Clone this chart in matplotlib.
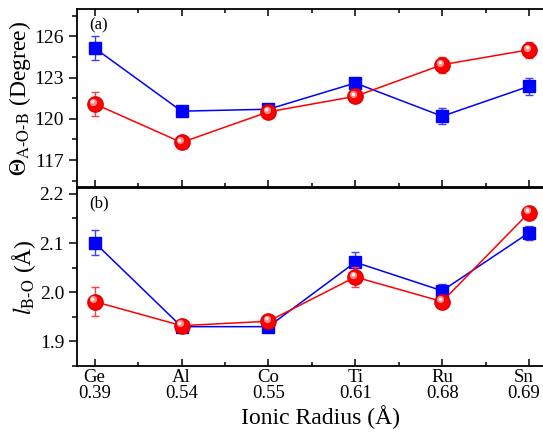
import matplotlib
matplotlib.use("Agg")
import matplotlib.pyplot as plt
from matplotlib.ticker import MultipleLocator, FixedLocator
from matplotlib.transforms import offset_copy, ScaledTranslation
import numpy as np

elements = ["Ge", "Al", "Co", "Ti", "Ru", "Sn"]
radii = ["0.39", "0.54", "0.55", "0.61", "0.68", "0.69"]

# panel (a): A-O-B angle (degree)
angle_blue = [125.15, 120.56, 120.70, 122.61, 120.19, 122.37]
angle_blue_err = [0.87, 0.30, 0.20, 0.20, 0.60, 0.62]
angle_red = [121.09, 118.28, 120.51, 121.64, 123.94, 125.03]
angle_red_err = [0.90, 0.30, 0.20, 0.20, 0.58, 0.58]

# panel (b): B-O bond length (Å)
bond_blue = [2.101, 1.930, 1.930, 2.061, 2.003, 2.121]
bond_blue_err = [0.025, 0.006, 0.006, 0.020, 0.014, 0.014]
bond_red = [1.981, 1.932, 1.941, 2.031, 1.981, 2.162]
bond_red_err = [0.030, 0.006, 0.006, 0.020, 0.008, 0.010]

plt.rcParams["font.family"] = ["Liberation Serif", "DejaVu Serif"]
plt.rcParams["mathtext.fontset"] = "stix"

W, H = 543, 433
fig = plt.figure(figsize=(W / 100, H / 100), dpi=100)

left = 77.3 / W
unit = 86.87  # px per category
xlo, xhi = -0.2, 5.4
width = (xhi - xlo) * unit / W
ax1 = fig.add_axes([left, 1 - 187.5 / H, width, 178.5 / H])
ax2 = fig.add_axes([left, 1 - 366 / H, width, 178.5 / H])

x = np.arange(len(elements))
BLUE = "#0000ff"
RED = "#ff0000"


def draw(ax, yb, eb, yr, er):
    ax.errorbar(x, yb, yerr=eb, color=BLUE, lw=1.1, marker="s", ms=9,
                mec=BLUE, mfc=BLUE, capsize=3, elinewidth=1.0, ecolor="#3f3fff",
                capthick=1.0, zorder=3)
    ax.errorbar(x, yr, yerr=er, color=RED, lw=1.1, marker="o", ms=11,
                mec="#e00000", mfc=RED, capsize=3, elinewidth=1.0, ecolor="#ff3f3f",
                capthick=1.0, zorder=4)
    t1 = offset_copy(ax.transData, fig=fig, x=-1.3, y=1.6, units="points")
    ax.plot(x, yr, ls="none", marker="o", ms=5.2, mfc="#ff8c8c", mec="none",
            transform=t1, zorder=5)
    t2 = offset_copy(ax.transData, fig=fig, x=-1.6, y=2.0, units="points")
    ax.plot(x, yr, ls="none", marker="o", ms=2.6, mfc="#fff0f0", mec="none",
            transform=t2, zorder=6)
    ax.set_xlim(xlo, xhi)
    ax.xaxis.set_major_locator(FixedLocator(x))
    ax.xaxis.set_minor_locator(MultipleLocator(0.5))
    for s in ax.spines.values():
        s.set_linewidth(1.3)
    ax.spines["right"].set_visible(False)
    ax.tick_params(axis="y", which="both", direction="out", right=False,
                   labelsize=14, width=1.1)
    ax.tick_params(axis="y", which="major", length=6)
    ax.tick_params(axis="y", which="minor", length=3.5)
    ax.tick_params(axis="x", which="both", direction="in", width=1.1)
    ax.tick_params(axis="x", which="major", length=5)
    ax.tick_params(axis="x", which="minor", length=3)


draw(ax1, angle_blue, angle_blue_err, angle_red, angle_red_err)
ax1.set_ylim(115, 128)
ax1.yaxis.set_major_locator(MultipleLocator(3))
ax1.yaxis.set_minor_locator(MultipleLocator(1.5))
ax1.tick_params(axis="x", which="both", top=True, bottom=True, labelbottom=False)
ax1.set_ylabel(r"$\Theta_{\mathrm{A\text{-}O\text{-}B}}$ (Degree)", fontsize=17, labelpad=1)
ax1.text(0.025, 0.955, "(a)", transform=ax1.transAxes, fontsize=12, va="top", ha="left")

draw(ax2, bond_blue, bond_blue_err, bond_red, bond_red_err)
ax2.set_ylim(1.85, 2.213)
ax2.yaxis.set_major_locator(MultipleLocator(0.1))
ax2.yaxis.set_minor_locator(MultipleLocator(0.05))
ax2.yaxis.set_major_formatter(matplotlib.ticker.FormatStrFormatter("%.1f"))
ax2.tick_params(axis="x", which="both", top=False, bottom=True)
ax2.set_xticklabels([f"{e}\n{r}" for e, r in zip(elements, radii)], fontsize=13.5,
                    linespacing=0.95)
ax2.tick_params(axis="x", which="major", pad=2)
last = ax2.get_xticklabels()[-1]
last.set_transform(last.get_transform() + ScaledTranslation(-4 / 72, 0, fig.dpi_scale_trans))
ax2.set_ylabel(r"$l_{\mathrm{B\text{-}O}}$ (Å)", fontsize=17, labelpad=1)
ax2.set_xlabel("Ionic Radius (Å)", fontsize=17, labelpad=2)
ax2.text(0.025, 0.955, "(b)", transform=ax2.transAxes, fontsize=12, va="top", ha="left")

fig.align_ylabels([ax1, ax2])
fig.savefig("out.png", dpi=100)
